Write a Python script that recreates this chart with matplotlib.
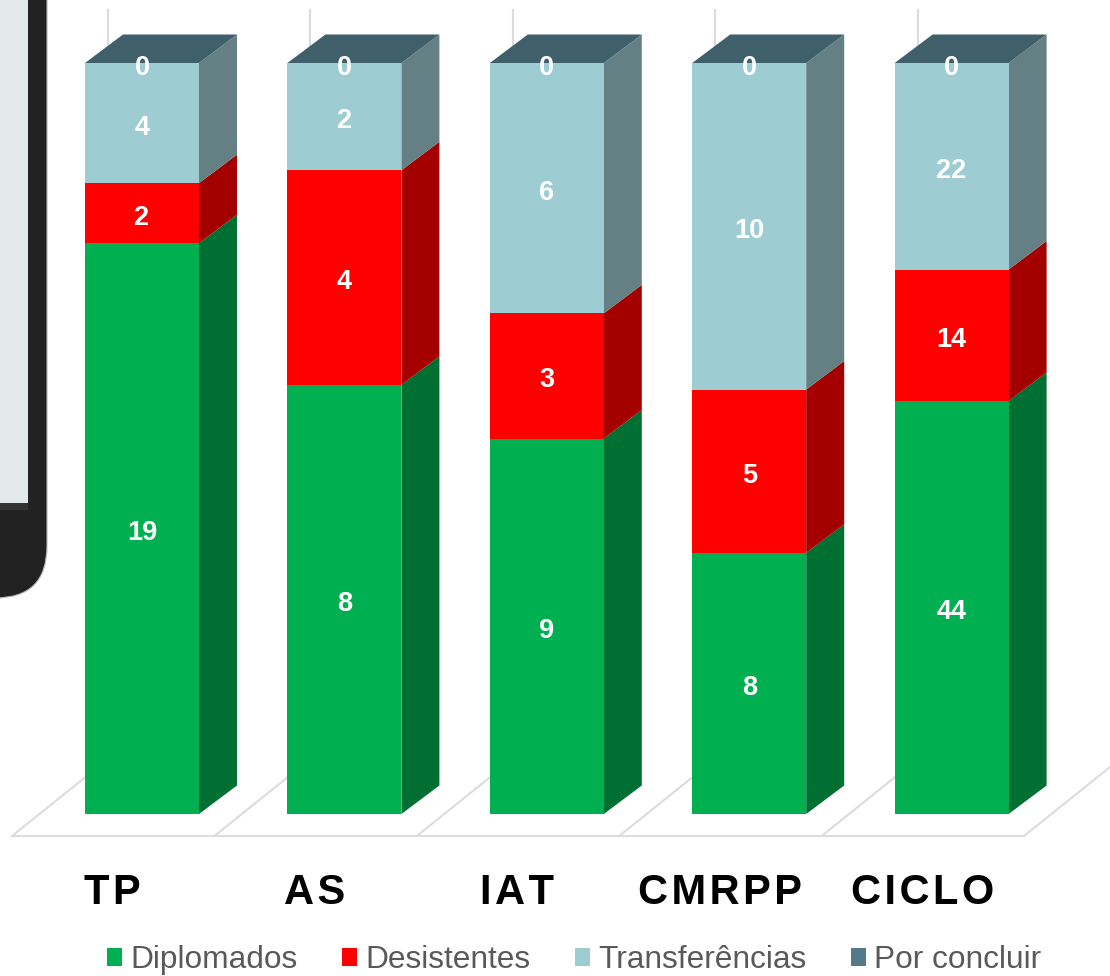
import numpy as np
import matplotlib
matplotlib.use("Agg")
import matplotlib.pyplot as plt
from matplotlib.patches import Polygon, Rectangle, FancyBboxPatch

categories = ["TP", "AS", "IAT", "CMRPP", "CICLO"]
diplomados = [19, 8, 9, 8, 44]
desistentes = [2, 4, 3, 5, 14]
transferencias = [4, 2, 6, 10, 22]
por_concluir = [0, 0, 0, 0, 0]

series_names = ["Diplomados", "Desistentes", "Transferências", "Por concluir"]
front_colors = ["#00B050", "#FF0000", "#9DCCD2", "#54798A"]
side_colors = ["#006F32", "#A50000", "#648084", "#3F606A"]

W, H = 1110, 976
plt.rcParams['font.family'] = ['Liberation Sans', 'DejaVu Sans']
fig = plt.figure(figsize=(W / 100, H / 100), dpi=100)

# the tablet frame that is cut off at the left of the picture
bg = fig.add_axes([0, 0, 1, 1], zorder=0)
bg.set_xlim(0, W)
bg.set_ylim(H, 0)
bg.axis("off")
bg.add_patch(FancyBboxPatch((-100, -100), 147, 698, boxstyle="round,pad=0,rounding_size=52",
                            fc="#222222", ec="#B8B8B8", lw=0.8))
bg.add_patch(Rectangle((0, 503), 28, 7, fc="#333333", lw=0))
bg.add_patch(Rectangle((0, 0), 28, 503, fc="#E1E9EB", lw=0))

# axes box = the 100% range of the front faces, one category = 202.4 px
left = 142 - 101.2
ax = fig.add_axes([left / W, (H - 814) / H, 1012 / W, 751 / H], zorder=1)
ax.patch.set_alpha(0)
ax.set_xlim(-0.5, 4.5)
ax.set_ylim(0, 100)
for s in ax.spines.values():
    s.set_visible(False)
ax.set_yticks([])

x = np.arange(len(categories))
counts = np.array([diplomados, desistentes, transferencias, por_concluir], dtype=float)
shares = counts / counts.sum(axis=0) * 100
bar_w = 114 / 202.4
dx = 38 / 202.4
dy = 28.5 / 7.51

# floor and back wall
floor_y = -22 / 7.51
gdx = 96 / 202.4
gdy = 77 / 7.51
grid = "#DCDCDC"
floor_l = x[0] - 130 / 202.4
ax.plot([floor_l, floor_l + 5], [floor_y, floor_y], color=grid, lw=1.5, clip_on=False, zorder=1)
for i in range(6):
    xx = floor_l + i
    ax.plot([xx, xx + gdx], [floor_y, floor_y + gdy], color=grid, lw=1.5, clip_on=False, zorder=1)
    ax.plot([xx + gdx, xx + gdx], [floor_y + gdy, 100 + 53 / 7.51], color=grid, lw=1.5, clip_on=False, zorder=1)

bottom = np.zeros(len(categories))
for k, name in enumerate(series_names):
    ax.bar(x, shares[k], bar_w, bottom=bottom, color=front_colors[k], lw=0, label=name, zorder=3)
    top = bottom + shares[k]
    for i in x:
        r = i + bar_w / 2
        ax.add_patch(Polygon([(r, bottom[i]), (r + dx, bottom[i] + dy), (r + dx, top[i] + dy), (r, top[i])],
                             fc=side_colors[k], lw=0, clip_on=False, zorder=2.5))
    bottom = top

# top faces take the colour of the last (empty) series
for i in x:
    l, r = i - bar_w / 2, i + bar_w / 2
    ax.add_patch(Polygon([(l, 100), (r, 100), (r + dx, 100 + dy), (l + dx, 100 + dy)],
                         fc=side_colors[3], lw=0, clip_on=False, zorder=3))

bottom = np.zeros(len(categories))
for k in range(4):
    for i in x:
        ax.text(i, bottom[i] + shares[k][i] / 2 - 0.6, f"{counts[k][i]:.0f}", color="white",
                fontsize=19.5, fontweight="bold", ha="center", va="center", zorder=5, clip_on=False)
    bottom = bottom + shares[k]

hair = "\u200a"
ax.set_xticks(x - 0.145, [hair.join(c) for c in categories])
ax.tick_params(axis="x", length=0, pad=42.5, labelsize=30, labelcolor="black")
for t in ax.get_xticklabels():
    t.set_fontweight("bold")

fig.legend(*ax.get_legend_handles_labels(), loc="lower left", bbox_to_anchor=(107 / W, 1 / H), ncol=4,
           frameon=False, fontsize=22.8, labelcolor="#595959", handlelength=0.475, handleheight=0.5,
           handletextpad=0.25, columnspacing=1.42, borderpad=0, borderaxespad=0)

fig.savefig("out.png", dpi=100)
